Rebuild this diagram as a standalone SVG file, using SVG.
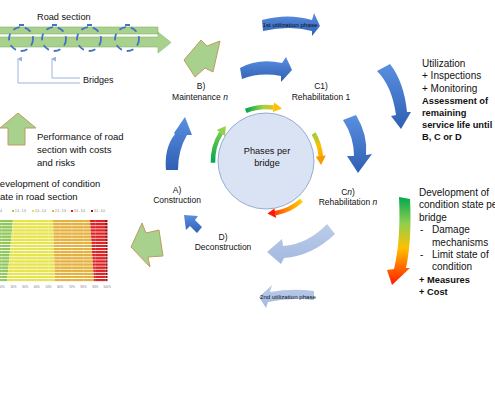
<svg xmlns="http://www.w3.org/2000/svg" width="495" height="400" viewBox="0 0 495 400">
<style>
.t{font-family:"Liberation Sans",Arial,sans-serif;fill:#111}
.lbl{font-size:8.5px;text-anchor:middle}
.side{font-size:9.5px}
.rt{font-size:10px}
.b{font-weight:bold;font-size:9.3px}
.sm{font-size:5.8px;text-anchor:middle}
.tiny{font-size:3px;fill:#777}
.garrow{fill:#a9d18e;stroke:#bf9b62;stroke-width:1}
.barg{fill:#a9d18e;stroke:#86b56a;stroke-width:0.6}
.blue{fill:url(#blueG)}
.light{fill:url(#lightG)}
.lead{fill:none;stroke:#9db3d9;stroke-width:1}
.bridge{fill:none;stroke:#4472c4;stroke-width:1.8;stroke-dasharray:7 5}
.arc{fill:none;stroke-width:4.5}
</style>
<defs>
<linearGradient id="blueG" x1="0" y1="0" x2="0" y2="1">
<stop offset="0" stop-color="#5a8fe0"/><stop offset="1" stop-color="#2f5fb3"/>
</linearGradient>
<linearGradient id="lightG" x1="0" y1="0" x2="0" y2="1">
<stop offset="0" stop-color="#bccdea"/><stop offset="1" stop-color="#a2b9df"/>
</linearGradient>
<linearGradient id="bigG" gradientUnits="userSpaceOnUse" x1="0" y1="197" x2="0" y2="285">
<stop offset="0" stop-color="#00a84f"/><stop offset="0.3" stop-color="#8fcf4f"/><stop offset="0.58" stop-color="#ffc000"/><stop offset="1" stop-color="#ff1a00"/>
</linearGradient>
<linearGradient id="topG" gradientUnits="userSpaceOnUse" x1="246" y1="0" x2="281" y2="0">
<stop offset="0" stop-color="#00a84f"/><stop offset="0.5" stop-color="#a8d040"/><stop offset="1" stop-color="#ffc000"/>
</linearGradient>
<linearGradient id="leftG" gradientUnits="userSpaceOnUse" x1="0" y1="162" x2="0" y2="126">
<stop offset="0" stop-color="#00a84f"/><stop offset="1" stop-color="#92d050"/>
</linearGradient>
<linearGradient id="rightG" gradientUnits="userSpaceOnUse" x1="0" y1="132" x2="0" y2="164">
<stop offset="0" stop-color="#8fcf40"/><stop offset="0.45" stop-color="#ffc000"/><stop offset="1" stop-color="#f59a00"/>
</linearGradient>
<linearGradient id="botG" gradientUnits="userSpaceOnUse" x1="302" y1="0" x2="268" y2="0">
<stop offset="0" stop-color="#ffd000"/><stop offset="0.5" stop-color="#ff8000"/><stop offset="1" stop-color="#ff1a00"/>
</linearGradient>
<pattern id="gaps" patternUnits="userSpaceOnUse" width="120" height="3.1" x="0" y="220">
<rect x="0" y="2.3" width="120" height="0.8" fill="#fff"/>
</pattern>
<marker id="ah" viewBox="0 0 10 10" refX="5" refY="2" markerWidth="5" markerHeight="5" orient="auto-start-reverse">
<path d="M0,10 L5,0 L10,10 Z" fill="#9db3d9"/>
</marker>
</defs>

<g id="road-section">
<rect class="barg" x="-2" y="27" width="160" height="7"/>
<path class="barg" d="M-2,37 L158,37 L158,32 L171,42.5 L158,53 L158,47 L-2,47 Z"/>
<text class="t" x="37" y="20" style="font-size:9.2px">Road section</text>
</g>

<g id="bridges">
<circle class="bridge" cx="21" cy="39" r="12"/>
<circle class="bridge" cx="54" cy="39" r="12"/>
<circle class="bridge" cx="89" cy="39" r="12"/>
<circle class="bridge" cx="127" cy="39" r="12"/>
<path d="M19,25 h5 M52,25 h5 M87,25 h5 M125,25 h5" stroke="#4472c4" stroke-width="2"/>
<text class="t" x="83" y="83" style="font-size:9px">Bridges</text>
</g>

<g id="connectors">
<path class="lead" d="M18,59 L18,83 L80,83" marker-start="url(#ah)"/>
<path class="lead" d="M52,59 L52,78 L80,78" marker-start="url(#ah)"/>
</g>

<g id="performance">
<path class="garrow" d="M18,113 L36,128 L25,128 L25,145 L8,145 L8,128 L0,128 Z"/>
<text class="t side" x="37" y="140">Performance of road</text>
<text class="t side" x="37" y="153">section with costs</text>
<text class="t side" x="37" y="166">and risks</text>
</g>

<g id="road-condition">
<text class="t side" x="-7" y="187">Development of condition</text>
<text class="t side" x="-7.4" y="200">state in road section</text>
</g>

<g id="chart">
<rect x="-12" y="210" width="2" height="2" fill="#70ad47"/>
<text class="t tiny" x="-9" y="212.2">1,0 - 1,4</text>
<rect x="12" y="210" width="2" height="2" fill="#92d050"/>
<text class="t tiny" x="15" y="212.2">1,5 - 1,9</text>
<rect x="32" y="210" width="2" height="2" fill="#e8e640"/>
<text class="t tiny" x="35" y="212.2">2,0 - 2,4</text>
<rect x="52" y="210" width="2" height="2" fill="#e8b13a"/>
<text class="t tiny" x="55" y="212.2">2,5 - 2,9</text>
<rect x="71" y="210" width="2" height="2" fill="#e02020"/>
<text class="t tiny" x="74" y="212.2">3,0 - 3,4</text>
<rect x="91" y="210" width="2" height="2" fill="#a01010"/>
<text class="t tiny" x="94" y="212.2">3,5 - 4,0</text>
<polygon points="-10,220 13,220 7,282 -10,282" fill="#8fc75a"/>
<polygon points="13,220 53,220 55,282 7,282" fill="#e6e44a"/>
<polygon points="53,220 90,220 94,282 55,282" fill="#e5b03c"/>
<polygon points="90,220 105,220 105.5,282 94,282" fill="#df2126"/>
<polygon points="105,220 107.5,220 107.5,282 105.5,282" fill="#9e0f12"/>
<rect x="-10" y="220" width="120" height="62" fill="url(#gaps)"/>
<path d="M1.7,219 V283 M13.4,219 V283 M25.1,219 V283 M36.8,219 V283 M48.5,219 V283 M60.2,219 V283 M71.9,219 V283 M83.6,219 V283 M95.3,219 V283" stroke="#ffffff" stroke-opacity="0.35" stroke-width="0.5"/>
<g class="t tiny" text-anchor="middle">
<text x="1.7" y="288">10%</text><text x="13.4" y="288">20%</text><text x="25.1" y="288">30%</text><text x="36.8" y="288">40%</text><text x="48.5" y="288">50%</text><text x="60.2" y="288">60%</text><text x="71.9" y="288">70%</text><text x="83.6" y="288">80%</text><text x="95.3" y="288">90%</text><text x="107" y="288">100%</text>
</g>
</g>

<g id="green-arrows">
<path class="garrow" d="M131,247 L142,223 L146,233 L159,230 L163,256 L148,257 L150,267 Z"/>
<path class="garrow" d="M184,60 L201,40 L207,46 L220,41 L213,72 L205,68 L195,77 Z"/>
</g>

<g id="center">
<circle cx="266" cy="161" r="48" fill="#dae3f3" stroke="#7f9cc9" stroke-width="0.8"/>
<text class="t" x="267" y="154" text-anchor="middle" style="font-size:9.2px">Phases per</text>
<text class="t" x="267" y="166" text-anchor="middle" style="font-size:9.2px">bridge</text>
</g>

<g id="phase-arcs">
<path class="arc" stroke="url(#topG)" d="M245.8,110.9 A54,54 0 0 1 273.5,107.5"/>
<polygon points="274.1,102.5 282,108.5 272.9,112" fill="#ffc000"/>
<path class="arc" stroke="url(#leftG)" d="M213,162.8 A53,53 0 0 1 221.1,132.9"/>
<polygon points="216.8,130 225.8,126 225,136" fill="#92d050"/>
<path class="arc" stroke="url(#rightG)" d="M313.6,133.5 A55,55 0 0 1 320.8,156.2"/>
<polygon points="325.8,155.6 321,165 315.8,156.4" fill="#f59a00"/>
<path class="arc" stroke="url(#botG)" d="M301.5,200.4 A53,53 0 0 1 275.2,213.2"/>
<polygon points="276.2,218 267.5,213.5 274.4,208.6" fill="#ff1a00"/>
</g>

<g id="phase-A">
<text class="t lbl" x="177" y="193">A)</text>
<text class="t lbl" x="177" y="203">Construction</text>
</g>
<g id="phase-B">
<text class="t lbl" x="201" y="89">B)</text>
<text class="t lbl" x="200" y="100">Maintenance <tspan font-style="italic">n</tspan></text>
</g>
<g id="phase-C1">
<text class="t lbl" x="321" y="89">C1)</text>
<text class="t lbl" x="321" y="100">Rehabilitation 1</text>
</g>
<g id="phase-Cn">
<text class="t lbl" x="348" y="195">C<tspan font-style="italic">n</tspan>)</text>
<text class="t lbl" x="348" y="205">Rehabilitation <tspan font-style="italic">n</tspan></text>
</g>
<g id="phase-D">
<text class="t lbl" x="223" y="240">D)</text>
<text class="t lbl" x="223" y="250">Deconstruction</text>
</g>

<g id="cycle-arrows">
<path class="blue" d="M262,20 Q288,13 312,20 L314,13 L320,26 L312,36 L312,31 Q290,25 263,31 Z"/>
<text class="t sm" x="290" y="26.5" textLength="55" lengthAdjust="spacingAndGlyphs">1st utilization phase</text>
<path class="blue" d="M240,68 Q258,58 282,63 L286,57 L292,70 L281,82 L281,76 Q260,72 242,79 Z"/>
<path class="blue" d="M377,71 L390,64 Q404,82 407,112 L411,112 L401,129 L391,116 L396,115 Q392,86 377,71 Z"/>
<path class="blue" d="M343,120 L356,115 Q368,135 366,155 L372,154 L358,173 L347,156 L354,156 Q354,137 343,120 Z"/>
<path class="light" d="M327,224 L335,234 Q312,256 284,258 L281,264 L267,252 L282,239 L283,246 Q308,244 327,224 Z"/>
<path class="light" d="M314,291 Q292,288 270,292 L272,285 L259,297 L266,308 L268,302 Q290,297 314,300 Z"/>
<text class="t sm" x="288" y="299" textLength="56" lengthAdjust="spacingAndGlyphs">2nd utilization phase</text>
<path class="blue" d="M184,215 L198,216 L195,220 L202,227 L197,233 L190,226 L186,230 Z"/>
<path class="blue" d="M166,170 Q164,148 175,134 L174,133 L185,117 L192,135 L187,135 Q178,150 178,170 Z"/>
</g>

<g id="utilization">
<text class="t rt" x="422" y="67">Utilization</text>
<text class="t rt" x="422" y="79">+ Inspections</text>
<text class="t rt" x="422" y="91.5">+ Monitoring</text>
<text class="t b" x="422" y="104">Assessment of</text>
<text class="t b" x="422" y="116">remaining</text>
<text class="t b" x="422" y="128">service life until</text>
<text class="t b" x="422" y="140">B, C or D</text>
</g>

<g id="bridge-condition">
<path fill="url(#bigG)" d="M399,197 L410,199 Q412,240 406,268 L410,268 L392,285 L387,270 L394,269 Q401,240 399,197 Z"/>
<text class="t rt" x="419" y="196">Development of</text>
<text class="t rt" x="419" y="208">condition state per</text>
<text class="t rt" x="419" y="220.5">bridge</text>
<text class="t rt" x="420" y="233">-</text>
<text class="t rt" x="432" y="233">Damage</text>
<text class="t rt" x="432" y="245.5">mechanisms</text>
<text class="t rt" x="420" y="258">-</text>
<text class="t rt" x="432" y="258">Limit state of</text>
<text class="t rt" x="432" y="270">condition</text>
<text class="t b" x="419" y="282.5">+ Measures</text>
<text class="t b" x="419" y="295">+ Cost</text>
</g>
</svg>
